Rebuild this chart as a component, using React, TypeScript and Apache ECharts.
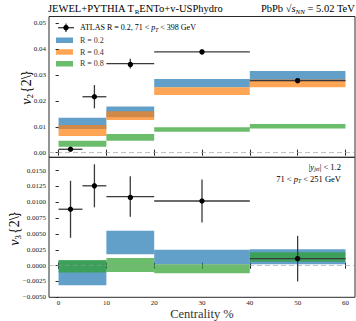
import React, { useEffect, useRef } from "react";
import * as echarts from "echarts";

// Centrality bins
const binStart = [0, 10, 20, 40];
const binEnd = [10, 20, 40, 60];

// v2{2} model bands (lo, hi)
const v2R02Lo = [0.0091, 0.0137, 0.0253, 0.0276];
const v2R02Hi = [0.0135, 0.0178, 0.0285, 0.0315];
const v2R04Lo = [0.0064, 0.0126, 0.0223, 0.0253];
const v2R04Hi = [0.0107, 0.016, 0.0253, 0.0283];
const v2R08Lo = [0.0023, 0.0046, 0.0081, 0.0093];
const v2R08Hi = [0.0046, 0.0072, 0.0098, 0.0111];

// v3{2} model bands (lo, hi)
const v3R02Lo = [-0.0031, 0.0018, 0.0002, 0.0002];
const v3R02Hi = [0.0008, 0.0055, 0.0025, 0.0026];
const v3R08Lo = [-0.0011, -0.001, -0.0012, 0.0006];
const v3R08Hi = [0.0009, 0.0012, 0.0002, 0.0021];

// ATLAS data
const atlasX = [2.5, 7.5, 15, 30, 50];
const atlasXErr = [2.5, 2.5, 5, 10, 10];
const atlasV2 = [0.0013, 0.0216, 0.0344, 0.0389, 0.0278];
const atlasV2Err = [0.0005, 0.0045, 0.0019, 0.001, 0.0007];
const atlasV3 = [0.0089, 0.0126, 0.0109, 0.0102, 0.0011];
const atlasV3Err = [0.0045, 0.0034, 0.0032, 0.0034, 0.0036];

// Tick labels
const xTicks = [0, 10, 20, 30, 40, 50, 60];
const v2Ticks = [0, 0.01, 0.02, 0.03, 0.04, 0.05];
const v3Ticks = [-0.005, -0.0025, 0, 0.0025, 0.005, 0.0075, 0.01, 0.0125, 0.015];

const BLUE = "#1f77b4";
const ORANGE = "#ff7f0e";
const GREEN = "#2ca02c";
const SERIF = "'Liberation Serif', 'DejaVu Serif', serif";
const AXIS = "#2a2a2a";

const bandData = (lo: number[], hi: number[]) =>
  binStart.map((s, i) => [s, binEnd[i], lo[i], hi[i]]);
const errData = (y: number[], ye: number[]) =>
  atlasX.map((x, i) => [x, y[i], atlasXErr[i], ye[i]]);

const bandRender = (color: string) => (_p: any, api: any) => {
  const p0 = api.coord([api.value(0), api.value(3)]);
  const p1 = api.coord([api.value(1), api.value(2)]);
  return {
    type: "rect",
    shape: { x: p0[0], y: p0[1], width: p1[0] - p0[0], height: p1[1] - p0[1] },
    style: { fill: color, opacity: 0.7 },
  };
};

const errRender = (_p: any, api: any) => {
  const x = api.value(0);
  const y = api.value(1);
  const xe = api.value(2);
  const ye = api.value(3);
  const c = api.coord([x, y]);
  const l = api.coord([x - xe, y]);
  const r = api.coord([x + xe, y]);
  const t = api.coord([x, y + ye]);
  const b = api.coord([x, y - ye]);
  const ls = { stroke: "#3a3a3a", lineWidth: 1.3 };
  return {
    type: "group",
    children: [
      { type: "line", shape: { x1: l[0], y1: l[1], x2: r[0], y2: r[1] }, style: ls },
      { type: "line", shape: { x1: t[0], y1: t[1], x2: b[0], y2: b[1] }, style: ls },
      { type: "circle", shape: { cx: c[0], cy: c[1], r: 2.7 }, style: { fill: "#000" } },
    ],
  };
};

const zeroLine = {
  silent: true,
  symbol: "none",
  label: { show: false },
  lineStyle: { type: [5, 3], color: "#9a9a9a", width: 1.1, opacity: 0.6 },
  data: [{ yAxis: 0 }],
};

const fmtNum = (d: number) => (v: number) => {
  const s = Math.abs(v).toFixed(d);
  return v < -1e-12 ? "\u2212" + s : s;
};

const xAxisDef = (grid: number, pos: "top" | "bottom", labels: boolean) => ({
  type: "value",
  gridIndex: grid,
  position: pos,
  min: -2,
  max: 62,
  axisLine: { show: false },
  splitLine: { show: false },
  axisTick: {
    show: true,
    inside: true,
    length: 3,
    customValues: xTicks,
    lineStyle: { color: AXIS, width: 1 },
  },
  axisLabel: {
    show: labels,
    customValues: xTicks,
    margin: 2,
    fontFamily: SERIF,
    fontSize: 7,
    lineHeight: 8,
    color: "#222",
  },
});

const yAxisDef = (
  grid: number,
  pos: "left" | "right",
  min: number,
  max: number,
  ticks: number[],
  digits: number,
  labels: boolean
) => ({
  type: "value",
  gridIndex: grid,
  position: pos,
  min,
  max,
  axisLine: { show: false },
  splitLine: { show: false },
  axisTick: {
    show: true,
    inside: pos === "right",
    length: pos === "right" ? 3 : 2,
    customValues: ticks,
    lineStyle: { color: AXIS, width: 1 },
  },
  axisLabel: {
    show: labels,
    customValues: ticks,
    margin: 3,
    fontFamily: SERIF,
    fontSize: 7,
    color: "#222",
    formatter: fmtNum(digits),
  },
});

export default function App() {
  const ref = useRef<HTMLDivElement>(null);
  useEffect(() => {
    if (!ref.current) return;
    const chart = echarts.init(ref.current, undefined, { renderer: "svg" });
    const richBase = { fontFamily: SERIF, color: "#333" };
    chart.setOption({
      animation: false,
      backgroundColor: "#fff",
      grid: [
        { left: 49, right: 1, top: 16.5, height: 140.8, show: true, borderColor: AXIS, borderWidth: 1, backgroundColor: "transparent" },
        { left: 49, right: 1, top: 157.3, height: 140, show: true, borderColor: AXIS, borderWidth: 1, backgroundColor: "transparent" },
      ],
      xAxis: [
        xAxisDef(0, "bottom", false),
        xAxisDef(0, "top", false),
        xAxisDef(1, "bottom", true),
        xAxisDef(1, "top", false),
      ],
      yAxis: [
        yAxisDef(0, "left", -0.0018, 0.0526, v2Ticks, 2, true),
        yAxisDef(0, "right", -0.0018, 0.0526, v2Ticks, 2, false),
        yAxisDef(1, "left", -0.005, 0.0171, v3Ticks, 4, true),
        yAxisDef(1, "right", -0.005, 0.0171, v3Ticks, 4, false),
      ],
      series: [
        { type: "custom", name: "R = 0.2", xAxisIndex: 0, yAxisIndex: 0, renderItem: bandRender(BLUE), data: bandData(v2R02Lo, v2R02Hi), encode: { x: [0, 1], y: [2, 3] }, z: 2 },
        { type: "custom", name: "R = 0.4", xAxisIndex: 0, yAxisIndex: 0, renderItem: bandRender(ORANGE), data: bandData(v2R04Lo, v2R04Hi), encode: { x: [0, 1], y: [2, 3] }, z: 3 },
        { type: "custom", name: "R = 0.8", xAxisIndex: 0, yAxisIndex: 0, renderItem: bandRender(GREEN), data: bandData(v2R08Lo, v2R08Hi), encode: { x: [0, 1], y: [2, 3] }, z: 4, markLine: zeroLine },
        { type: "custom", name: "ATLAS v2", xAxisIndex: 0, yAxisIndex: 0, renderItem: errRender, data: errData(atlasV2, atlasV2Err), encode: { x: 0, y: 1 }, z: 6 },
        { type: "custom", name: "R = 0.2 v3", xAxisIndex: 2, yAxisIndex: 2, renderItem: bandRender(BLUE), data: bandData(v3R02Lo, v3R02Hi), encode: { x: [0, 1], y: [2, 3] }, z: 2 },
        { type: "custom", name: "R = 0.8 v3", xAxisIndex: 2, yAxisIndex: 2, renderItem: bandRender(GREEN), data: bandData(v3R08Lo, v3R08Hi), encode: { x: [0, 1], y: [2, 3] }, z: 4, markLine: zeroLine },
        { type: "custom", name: "ATLAS v3", xAxisIndex: 2, yAxisIndex: 2, renderItem: errRender, data: errData(atlasV3, atlasV3Err), encode: { x: 0, y: 1 }, z: 6 },
      ],
      graphic: [
        // Titles
        {
          type: "text", left: 48, top: 3,
          style: {
            text: "{a|JEWEL+PYTHIA T}{s|R}{a|ENTo+v-USPhydro}",
            rich: { a: { ...richBase, fontSize: 10.5 }, s: { ...richBase, fontSize: 7, padding: [6, 0, 0, 0] } },
          },
        },
        {
          type: "text", right: 1, top: 3,
          style: {
            text: "{a|PbPb \u221A}{i|s}{s|NN}{a| = 5.02 TeV}",
            rich: {
              a: { ...richBase, fontSize: 10.5 },
              i: { ...richBase, fontSize: 10.5, fontStyle: "italic" },
              s: { ...richBase, fontSize: 7, fontStyle: "italic", padding: [6, 0, 0, 0] },
            },
          },
        },
        // Y-axis names
        {
          type: "text", x: 26, y: 88, rotation: Math.PI / 2,
          style: {
            text: "{i|v}{s|2}{a|{2\\}}",
            align: "center", verticalAlign: "middle",
            rich: {
              a: { ...richBase, fontSize: 14 },
              i: { ...richBase, fontSize: 14, fontStyle: "italic" },
              s: { ...richBase, fontSize: 9, padding: [7, 1, 0, 0] },
            },
          },
        },
        {
          type: "text", x: 14, y: 229, rotation: Math.PI / 2,
          style: {
            text: "{i|v}{s|3}{a|{2\\}}",
            align: "center", verticalAlign: "middle",
            rich: {
              a: { ...richBase, fontSize: 14 },
              i: { ...richBase, fontSize: 14, fontStyle: "italic" },
              s: { ...richBase, fontSize: 9, padding: [7, 1, 0, 0] },
            },
          },
        },
        // X-axis name
        {
          type: "text", x: 202, y: 314,
          style: { text: "Centrality %", fontFamily: SERIF, fontSize: 12.5, lineHeight: 13, fill: "#333", align: "center", verticalAlign: "middle" },
        },
        // Legend: ATLAS marker
        { type: "line", shape: { x1: 58, y1: 27.7, x2: 74, y2: 27.7 }, style: { stroke: "#3a3a3a", lineWidth: 1.3 } },
        { type: "line", shape: { x1: 66, y1: 23.5, x2: 66, y2: 32 }, style: { stroke: "#3a3a3a", lineWidth: 1.3 } },
        { type: "circle", shape: { cx: 66, cy: 27.7, r: 2.7 }, style: { fill: "#000" } },
        {
          type: "text", x: 80, y: 27.7,
          style: {
            text: "{a|ATLAS R = 0.2, 71 < }{i|p}{s|T}{a| < 398 GeV}",
            verticalAlign: "middle",
            rich: {
              a: { ...richBase, fontSize: 8 },
              i: { ...richBase, fontSize: 8, fontStyle: "italic" },
              s: { ...richBase, fontSize: 5.5, fontStyle: "italic", padding: [4, 0, 0, 0] },
            },
          },
        },
        // Legend: patches
        { type: "rect", shape: { x: 56, y: 37.5, width: 17, height: 5.5 }, style: { fill: BLUE, opacity: 0.7 } },
        { type: "text", x: 80, y: 40.2, style: { text: "R = 0.2", fontFamily: SERIF, fontSize: 8, fill: "#333", verticalAlign: "middle" } },
        { type: "rect", shape: { x: 56, y: 49.2, width: 17, height: 5.5 }, style: { fill: ORANGE, opacity: 0.7 } },
        { type: "text", x: 80, y: 52, style: { text: "R = 0.4", fontFamily: SERIF, fontSize: 8, fill: "#333", verticalAlign: "middle" } },
        { type: "rect", shape: { x: 56, y: 61, width: 17, height: 5.5 }, style: { fill: GREEN, opacity: 0.7 } },
        { type: "text", x: 80, y: 63.8, style: { text: "R = 0.8", fontFamily: SERIF, fontSize: 8, fill: "#333", verticalAlign: "middle" } },
        // Bottom panel annotation
        {
          type: "text", x: 341, y: 167,
          style: {
            text: "{a||}{i|y}{s|jet}{a|| < 1.2}",
            align: "right", verticalAlign: "middle",
            rich: {
              a: { ...richBase, fontSize: 8.5 },
              i: { ...richBase, fontSize: 8.5, fontStyle: "italic" },
              s: { ...richBase, fontSize: 5.5, fontStyle: "italic", padding: [4, 0, 0, 0] },
            },
          },
        },
        {
          type: "text", x: 341, y: 179,
          style: {
            text: "{a|71 < }{i|p}{s|T}{a| < 251 GeV}",
            align: "right", verticalAlign: "middle",
            rich: {
              a: { ...richBase, fontSize: 8.5 },
              i: { ...richBase, fontSize: 8.5, fontStyle: "italic" },
              s: { ...richBase, fontSize: 5.5, fontStyle: "italic", padding: [4, 0, 0, 0] },
            },
          },
        },
      ],
    });
    return () => chart.dispose();
  }, []);
  return (
    <div
      ref={ref}
      style={{ position: "fixed", left: 0, top: 0, width: 356, height: 321, background: "#fff" }}
    />
  );
}
